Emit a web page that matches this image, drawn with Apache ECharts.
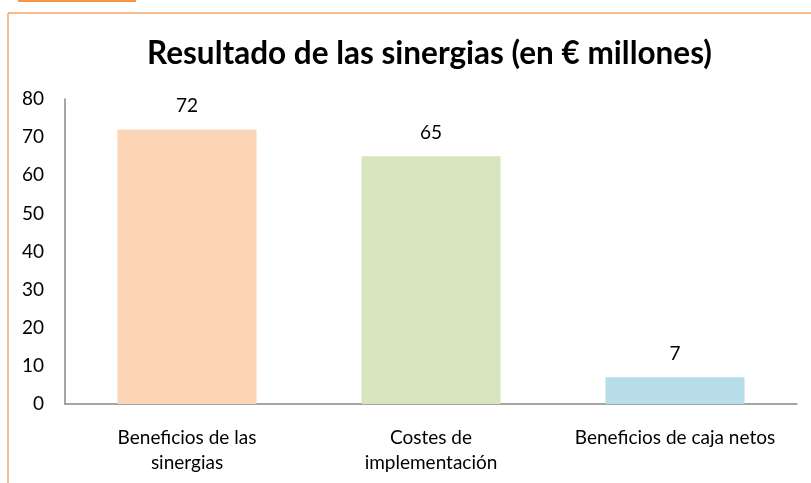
<!DOCTYPE html>
<html>
<head>
<meta charset="utf-8">
<script src="https://cdn.jsdelivr.net/npm/echarts@6/dist/echarts.min.js"></script>
<style>
  html, body { margin: 0; padding: 0; background: #fff; }
  #chart { width: 811px; height: 483px; }
</style>
</head>
<body>
<div id="chart"></div>
<script>
var categories = ['Beneficios de las\nsinergias', 'Costes de\nimplementación', 'Beneficios de caja netos']
var values = [72, 65, 7]
var barColors = ['#fbd5b5', '#d7e4bd', '#b7dee8']

var chart = echarts.init(document.getElementById('chart'))
var font = 'Lato, "Open Sans", sans-serif'

chart.setOption({
  animation: false,
  textStyle: { fontFamily: font },
  title: {
    text: 'Resultado de las sinergias (en € millones)',
    left: 142,
    top: 33,
    textStyle: {
      fontFamily: font,
      fontSize: 31.5,
      fontWeight: 'bold',
      color: '#000'
    }
  },
  graphic: [
    // orange frame pieces
    { type: 'rect', shape: { x: 18, y: 0, width: 118, height: 2 }, style: { fill: '#f79646' } },
    { type: 'line', shape: { x1: 8, y1: 13, x2: 811, y2: 13 }, style: { stroke: '#f6a465', lineWidth: 1.5 } },
    { type: 'line', shape: { x1: 8, y1: 13, x2: 8, y2: 483 }, style: { stroke: '#f6a465', lineWidth: 1.5 } }
  ],
  grid: {
    left: 65,
    right: 14,
    top: 99,
    bottom: 79
  },
  xAxis: {
    type: 'category',
    data: categories,
    axisTick: { show: false },
    axisLine: { lineStyle: { color: '#888', width: 1.5 } },
    axisLabel: {
      interval: 0,
      hideOverlap: false,
      color: '#000',
      fontSize: 19,
      lineHeight: 25,
      margin: 21
    }
  },
  yAxis: {
    type: 'value',
    min: 0,
    max: 80,
    interval: 10,
    splitLine: { show: false },
    axisTick: { show: false },
    axisLine: { show: true, lineStyle: { color: '#888', width: 1.5 } },
    axisLabel: {
      color: '#000',
      fontSize: 19,
      margin: 21
    }
  },
  series: [{
    type: 'bar',
    barWidth: '57%',
    data: values.map(function (v, i) {
      return { value: v, itemStyle: { color: barColors[i] } }
    }),
    label: {
      show: true,
      position: 'top',
      distance: 14,
      color: '#000',
      fontSize: 19
    }
  }]
})
</script>
</body>
</html>
